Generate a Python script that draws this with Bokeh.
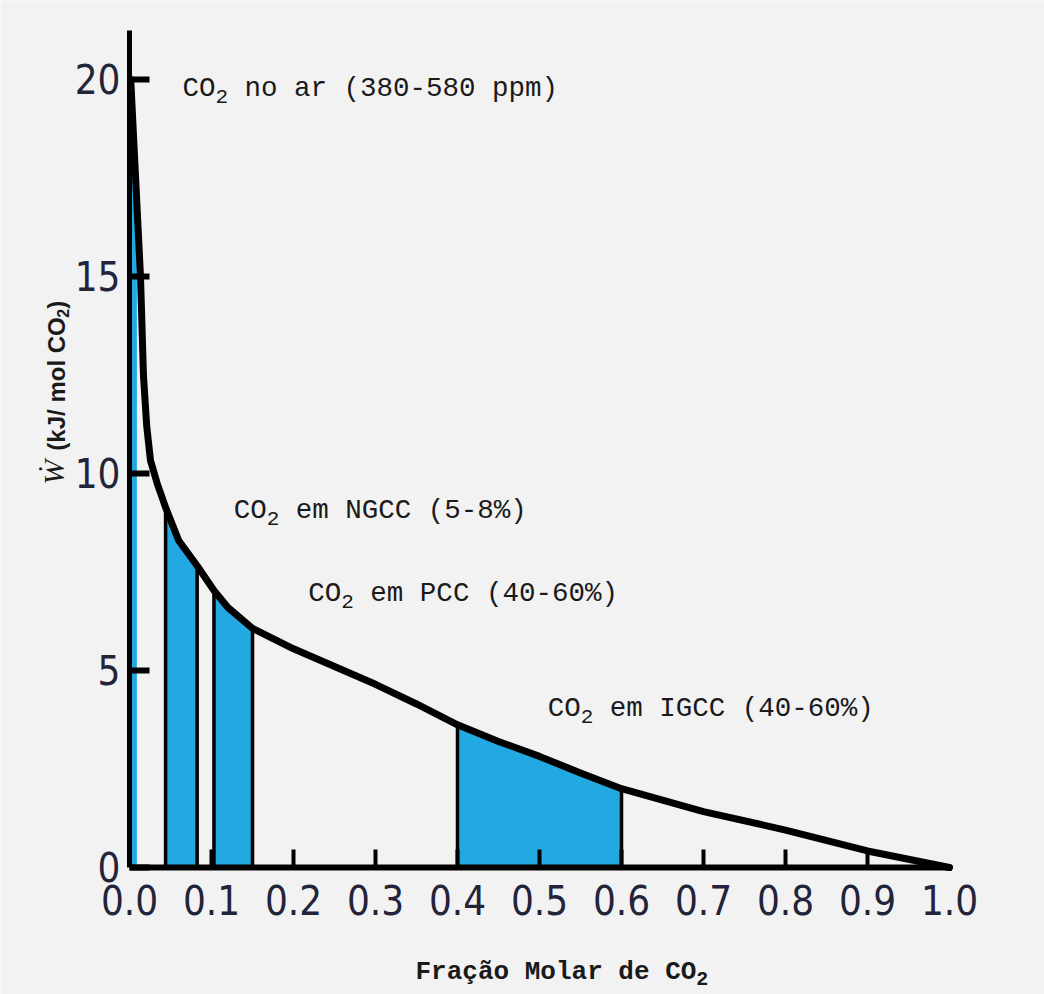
import math
from bokeh.plotting import figure
from bokeh.models import FixedTicker, Label, NumeralTickFormatter
from bokeh.embed import file_html
from bokeh.resources import INLINE

# ---- data ----
curve_x = [0.0015, 0.0134, 0.017, 0.021, 0.0256, 0.0337, 0.044, 0.06, 0.0825, 0.103, 0.12, 0.15,
           0.2, 0.25, 0.3, 0.35, 0.4, 0.45, 0.5, 0.55, 0.6, 0.7, 0.8, 0.9, 1.0]
curve_y = [20.0, 15.0, 12.5, 11.2, 10.33, 9.75, 9.14, 8.3, 7.66, 7.03, 6.6, 6.07,
           5.55, 5.1, 4.65, 4.15, 3.62, 3.2, 2.82, 2.4, 2.0, 1.42, 0.95, 0.42, 0.0]

air_x = [0.0, 0.005, 0.009]
air_y = [20.0, 18.0, 16.8]
ngcc_x = [0.044, 0.06, 0.0825]
ngcc_y = [9.14, 8.3, 7.66]
pcc_x = [0.103, 0.12, 0.15]
pcc_y = [7.03, 6.6, 6.07]
igcc_x = [0.4, 0.45, 0.5, 0.55, 0.6]
igcc_y = [3.62, 3.2, 2.82, 2.4, 2.0]

x_tick_values = [0.0, 0.1, 0.2, 0.3, 0.4, 0.5, 0.6, 0.7, 0.8, 0.9, 1.0]
x_inner_ticks = [0.1, 0.2, 0.3, 0.4, 0.5, 0.6, 0.7, 0.8, 0.9]
y_tick_values = [0, 5, 10, 15, 20]

annotation_rest = ["no ar (380-580 ppm)", "em NGCC (5-8%)",
                   "em PCC (40-60%)", "em IGCC (40-60%)"]

BLUE = "#22a9e1"
BG = "#f2f2f2"
TICK_COLOR = "#23233a"
TXT = "#1a1a1a"
NARROW = "DejaVu Sans Condensed"
MONO = "Liberation Mono"

# frame covers the whole canvas; axes sit at x=0 / y=0 with bounds
p = figure(width=1044, height=994, x_range=(-0.15732, 1.11585), y_range=(-3.2234, 22.005),
           output_backend="svg", toolbar_location=None,
           min_border_left=0, min_border_right=0, min_border_top=0, min_border_bottom=0)
p.grid.visible = False
p.outline_line_color = None
p.background_fill_color = BG
p.border_fill_color = BG

# filled regions
for xs, ys in [(air_x, air_y), (ngcc_x, ngcc_y), (pcc_x, pcc_y), (igcc_x, igcc_y)]:
    p.varea(x=xs, y1=[0] * len(xs), y2=ys, fill_color=BLUE)

# vertical edges of the shaded bands
edges_x = [ngcc_x[0], ngcc_x[-1], pcc_x[0], pcc_x[-1], igcc_x[0], igcc_x[-1]]
edges_top = [ngcc_y[0], ngcc_y[-1], pcc_y[0], pcc_y[-1], igcc_y[0], igcc_y[-1]]
p.segment(x0=edges_x, y0=[0] * len(edges_x), x1=edges_x, y1=edges_top,
          line_color="black", line_width=3.5)

# curve
p.line(curve_x, curve_y, line_color="black", line_width=7, line_join="round", line_cap="round")

# axes
xa = p.xaxis[0]
xa.fixed_location = 0
xa.bounds = (0, 1.002)
xa.ticker = FixedTicker(ticks=x_tick_values, minor_ticks=x_inner_ticks)
xa.formatter = NumeralTickFormatter(format="0.0")
xa.axis_line_width = 6
xa.axis_line_color = "black"
xa.major_tick_in = 0
xa.major_tick_out = 0
xa.minor_tick_in = 18
xa.minor_tick_out = 0
xa.minor_tick_line_width = 4
xa.minor_tick_line_color = "black"
xa.major_label_text_font = NARROW
xa.major_label_text_font_size = "40px"
xa.major_label_text_color = TICK_COLOR
xa.major_label_standoff = 18

ya = p.yaxis[0]
ya.fixed_location = 0
ya.bounds = (0, 21.24)
ya.ticker = FixedTicker(ticks=y_tick_values)
ya.axis_line_width = 5
ya.axis_line_color = "black"
ya.major_tick_in = 20
ya.major_tick_out = 0
ya.major_tick_line_width = 6
ya.major_tick_line_color = "black"
ya.minor_tick_in = 0
ya.minor_tick_out = 0
ya.major_label_text_font = NARROW
ya.major_label_text_font_size = "40px"
ya.major_label_text_color = TICK_COLOR
ya.major_label_standoff = 9


def add_label(**kw):
    p.add_layout(Label(text_color=TXT, **kw))


# annotations with subscript 2
SIZE, SUB, DROP = 27.5, 21, 8
ann_pos = [(0.0646, 19.77), (0.127, 9.06), (0.218, 6.95), (0.51, 4.04)]
for rest, (ax, ay) in zip(annotation_rest, ann_pos):
    common = dict(x=ax, y=ay, text_font=MONO, text_align="left", text_baseline="alphabetic")
    add_label(text="CO", text_font_size=f"{SIZE}px", **common)
    add_label(text="2", text_font_size=f"{SUB}px", x_offset=1.2 * SIZE, y_offset=-DROP, **common)
    add_label(text=rest, text_font_size=f"{SIZE}px",
              x_offset=1.2 * SIZE + 0.6 * SUB + 0.6 * SIZE, **common)

# x axis title
XS = 26
xt = dict(x=0.3488, y=-2.665, text_font=MONO, text_font_style="bold",
          text_align="left", text_baseline="alphabetic")
add_label(text="Fra\u00e7\u00e3o Molar de CO", text_font_size=f"{XS}px", **xt)
add_label(text="2", text_font_size="20px", x_offset=18 * 0.6 * XS, y_offset=-6, **xt)

# y axis title (rotated)
add_label(x=-0.0927, y=10.03, text="\u1e86", angle=math.pi / 2,
          text_font="Liberation Serif", text_font_style="italic",
          text_font_size="30px", text_align="center", text_baseline="middle")
yt = dict(x=-0.089, y=10.58, angle=math.pi / 2, text_font="Liberation Sans",
          text_font_style="bold", text_align="left", text_baseline="middle")
add_label(text="(kJ/ mol CO", text_font_size="24px", **yt)
add_label(text="2", text_font_size="16px", x_offset=6, y_offset=133, **yt)
add_label(text=")", text_font_size="24px", y_offset=142, **yt)

open("out.html", "w").write(file_html(p, INLINE))
